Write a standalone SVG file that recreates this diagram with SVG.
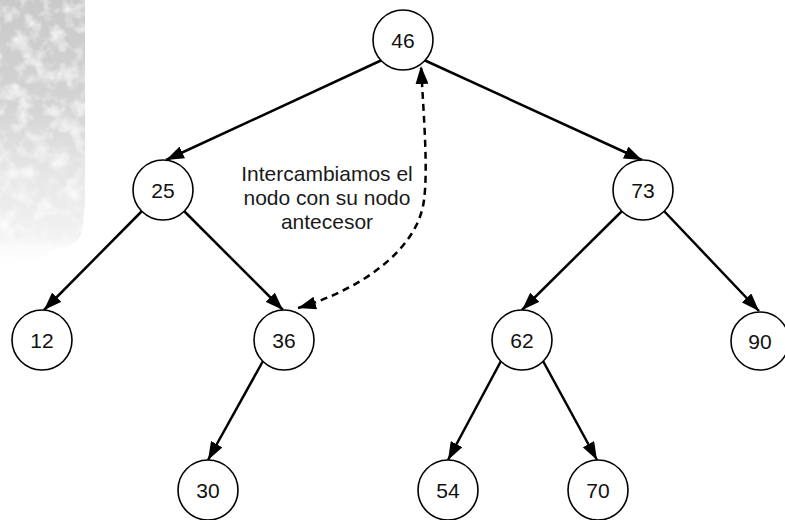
<svg xmlns="http://www.w3.org/2000/svg" width="785" height="520" viewBox="0 0 785 520">
  <defs>
    <style>
      .node circle { fill: #ffffff; stroke: #000000; stroke-width: 1.6; }
      .node text { font-family: "Liberation Sans", Arial, sans-serif; font-size: 21px; fill: #111111; text-anchor: middle; dominant-baseline: central; }
      .edge { fill: none; stroke: #000000; stroke-width: 2.5; marker-end: url(#arrow); }
      .swap { fill: none; stroke: #000000; stroke-width: 2.5; stroke-dasharray: 7 5; marker-start: url(#arrow); marker-end: url(#arrow); }
      .note { font-family: "Liberation Sans", Arial, sans-serif; font-size: 21px; fill: #1a1a1a; text-anchor: middle; }
    </style>
    <marker id="arrow" viewBox="0 0 18 13" refX="18" refY="6.5" markerWidth="18" markerHeight="13" markerUnits="userSpaceOnUse" orient="auto-start-reverse">
      <path d="M0,0 L18,6.5 L0,13 z" fill="#000000"/>
    </marker>
    <linearGradient id="texFade" x1="0" y1="0" x2="0" y2="1">
      <stop offset="0" stop-color="#c9c9c9"/>
      <stop offset="0.4" stop-color="#d4d4d4"/>
      <stop offset="0.65" stop-color="#e6e6e6"/>
      <stop offset="0.88" stop-color="#f2f2f2"/>
      <stop offset="1" stop-color="#ffffff" stop-opacity="0"/>
    </linearGradient>
    <filter id="mottle" x="0" y="0" width="1" height="1">
      <feTurbulence type="fractalNoise" baseFrequency="0.06" numOctaves="3" seed="7" result="noise"/>
      <feColorMatrix in="noise" type="matrix" values="0 0 0 0 0.97  0 0 0 0 0.97  0 0 0 0 0.97  -2.2 0 0 0 1.25" result="spots"/>
      <feComposite in="spots" in2="SourceGraphic" operator="in" result="spotsIn"/>
      <feMerge>
        <feMergeNode in="SourceGraphic"/>
        <feMergeNode in="spotsIn"/>
      </feMerge>
    </filter>
  </defs>

  <rect width="785" height="520" fill="#ffffff"/>

  <!-- textured backdrop strip on the left edge -->
  <path d="M0,0 H85 V205 C82,220 86,235 74,243 C62,251 54,245 46,255 C38,262 24,258 14,264 C8,267 3,266 0,268 Z" fill="url(#texFade)" filter="url(#mottle)"/>

  <!-- connectors -->
  <g id="connectors">
    <path class="edge" d="M382,60 L166,160"/>
    <path class="edge" d="M424,60 L642,160"/>
    <path class="edge" d="M142,211 L44,310"/>
    <path class="edge" d="M184,211 L283,310"/>
    <path class="edge" d="M622,211 L522,310"/>
    <path class="edge" d="M664,211 L759,311"/>
    <path class="edge" d="M263,361 L208,460"/>
    <path class="edge" d="M501,361 L448,460"/>
    <path class="edge" d="M543,361 L597,460"/>
    <path class="swap" d="M298,308 C360,290 418,250 424,200 C428,170 424,120 421,66"/>
  </g>

  <g id="n46" class="node"><circle cx="403" cy="40" r="30"/><text x="403" y="40">46</text></g>
  <g id="n25" class="node"><circle cx="163" cy="190" r="30"/><text x="163" y="190">25</text></g>
  <g id="n73" class="node"><circle cx="643" cy="190" r="30"/><text x="643" y="190">73</text></g>
  <g id="n12" class="node"><circle cx="42" cy="340" r="30"/><text x="42" y="340">12</text></g>
  <g id="n36" class="node"><circle cx="284" cy="340" r="30"/><text x="284" y="340">36</text></g>
  <g id="n62" class="node"><circle cx="522" cy="340" r="30"/><text x="522" y="340">62</text></g>
  <g id="n90" class="node"><circle cx="760" cy="341" r="29"/><text x="760" y="341">90</text></g>
  <g id="n30" class="node"><circle cx="208" cy="490" r="30"/><text x="208" y="490">30</text></g>
  <g id="n54" class="node"><circle cx="448" cy="490" r="30"/><text x="448" y="490">54</text></g>
  <g id="n70" class="node"><circle cx="598" cy="490" r="30"/><text x="598" y="490">70</text></g>

  <g id="note">
    <text class="note" x="327" y="181">Intercambiamos el</text>
    <text class="note" x="327" y="205">nodo con su nodo</text>
    <text class="note" x="327" y="229">antecesor</text>
  </g>
</svg>
